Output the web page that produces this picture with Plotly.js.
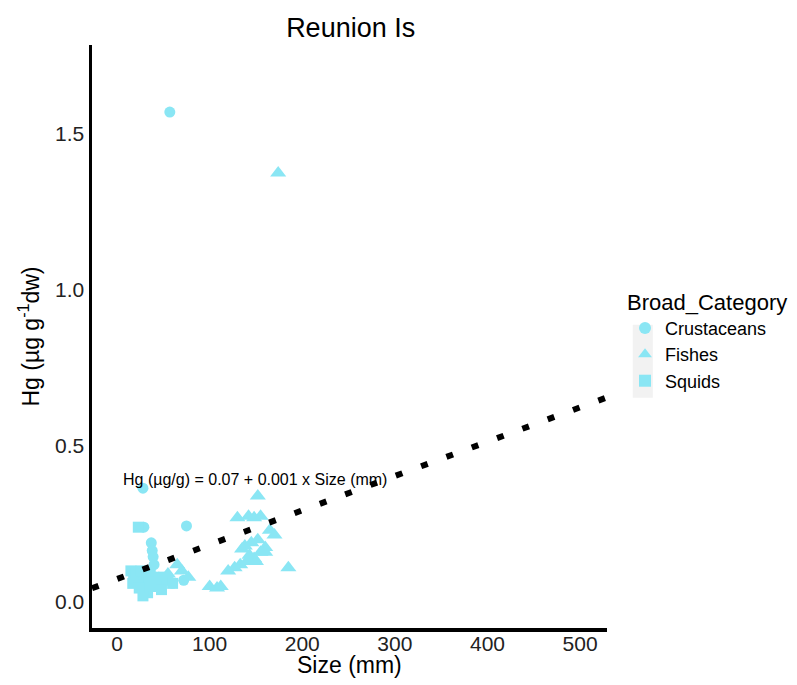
<!DOCTYPE html>
<html>
<head>
<meta charset="utf-8">
<script src="https://cdn.plot.ly/plotly-3.0.1.min.js"></script>
<style>html,body{margin:0;padding:0;background:#fff;}#chart{width:797px;height:685px;}</style>
</head>
<body>
<div id="chart"></div>
<script>
// Data (Size in mm, Hg in µg/g dw)
const crustSize = [57, 28, 75, 29, 37, 38, 39, 40, 36, 72, 45, 60];
const crustHg   = [1.57, 0.365, 0.244, 0.24, 0.19, 0.165, 0.145, 0.12, 0.10, 0.07, 0.08, 0.06];

const fishSize = [174, 152, 130, 142, 155, 148, 165, 170, 185, 100, 108, 120, 127, 133, 140, 148, 155, 160, 138, 145, 152, 143, 150, 65, 70, 77, 55, 160, 135, 112];
const fishHg   = [1.375, 0.34, 0.27, 0.275, 0.275, 0.27, 0.23, 0.215, 0.11, 0.05, 0.045, 0.10, 0.11, 0.12, 0.13, 0.14, 0.16, 0.175, 0.18, 0.19, 0.2, 0.15, 0.13, 0.12, 0.10, 0.08, 0.09, 0.16, 0.17, 0.05];

const squidSize = [23, 15, 18, 22, 25, 28, 30, 33, 35, 40, 45, 50, 55, 60, 20, 26, 32, 38, 42, 48, 28, 35, 17, 24];
const squidHg   = [0.24, 0.10, 0.08, 0.07, 0.06, 0.05, 0.04, 0.03, 0.05, 0.07, 0.06, 0.08, 0.07, 0.06, 0.09, 0.10, 0.09, 0.08, 0.05, 0.04, 0.02, 0.065, 0.06, 0.045];

const categories = ["Crustaceans", "Fishes", "Squids"];
const xTicks = [0, 100, 200, 300, 400, 500];
const yTicks = [0, 0.5, 1.0, 1.5];
const yTickLabels = ["0.0", "0.5", "1.0", "1.5"];
const fitIntercept = 0.074;
const fitSlope = 0.0011;
const xRange = [-27, 529];
const yRange = [-0.083, 1.785];

const col = "#8AE6F4";
const font = "Liberation Sans, Arial, sans-serif";

const fitX = xRange.slice();
const fitY = fitX.map(v => fitIntercept + fitSlope * v);

const traces = [
  {x: crustSize, y: crustHg, name: categories[0], type: "scatter", mode: "markers",
   marker: {symbol: "circle", color: col, size: 11}},
  {x: fishSize, y: fishHg, name: categories[1], type: "scatter", mode: "markers",
   marker: {symbol: "triangle-up", color: col, size: 14}},
  {x: squidSize, y: squidHg, name: categories[2], type: "scatter", mode: "markers",
   marker: {symbol: "square", color: col, size: 11}},
  {x: fitX, y: fitY, type: "scatter", mode: "lines", showlegend: false, hoverinfo: "skip",
   line: {color: "#000", width: 6, dash: "7px,20px"}}
];

const layout = {
  width: 797, height: 685,
  margin: {l: 92, r: 190, t: 45, b: 57, autoexpand: false},
  paper_bgcolor: "#fff", plot_bgcolor: "#fff",
  font: {family: font, color: "#000"},
  title: {text: "Reunion Is", x: 0.44, xanchor: "center", y: 0.96, yanchor: "middle",
          font: {size: 27, color: "#000", family: font}},
  xaxis: {range: xRange, tickvals: xTicks, ticks: "", showgrid: false, zeroline: false,
          showline: true, linecolor: "#000", linewidth: 3.5, ticklabelstandoff: -6,
          tickfont: {size: 21, color: "#222", family: font}},
  yaxis: {range: yRange, tickvals: yTicks, ticktext: yTickLabels, ticks: "", showgrid: false, zeroline: false,
          showline: true, linecolor: "#000", linewidth: 3.5,
          tickfont: {size: 21, color: "#222", family: font},
          title: {text: "Hg (µg g<sup>-1</sup>dw)", font: {size: 23, color: "#000", family: font}, standoff: 10}},
  legend: {x: 1.035, y: 0.595, xanchor: "left", yanchor: "top",
           title: {text: "Broad_Category", font: {size: 22, color: "#000", family: font}},
           font: {size: 18, color: "#000", family: font}, itemsizing: "constant", tracegroupgap: 0,
           itemwidth: 30, bgcolor: "rgba(0,0,0,0)"},
  shapes: [
    {type: "rect", xref: "paper", yref: "paper", x0: 1.050, x1: 1.089, y0: 0.395, y1: 0.52,
     fillcolor: "#F2F2F2", line: {width: 0}, layer: "below"}
  ],
  annotations: [
    {text: "Hg (µg/g) = 0.07 + 0.001 x Size (mm)", x: 149, y: 0.394, xref: "x", yref: "y",
     showarrow: false, font: {size: 16, color: "#000", family: font}},
    {text: "Size (mm)", x: 0.5, y: -0.064, xref: "paper", yref: "paper", xanchor: "center", yanchor: "middle",
     showarrow: false, font: {size: 23, color: "#000", family: font}}
  ]
};

Plotly.newPlot("chart", traces, layout, {displayModeBar: false, staticPlot: true});
</script>
</body>
</html>
